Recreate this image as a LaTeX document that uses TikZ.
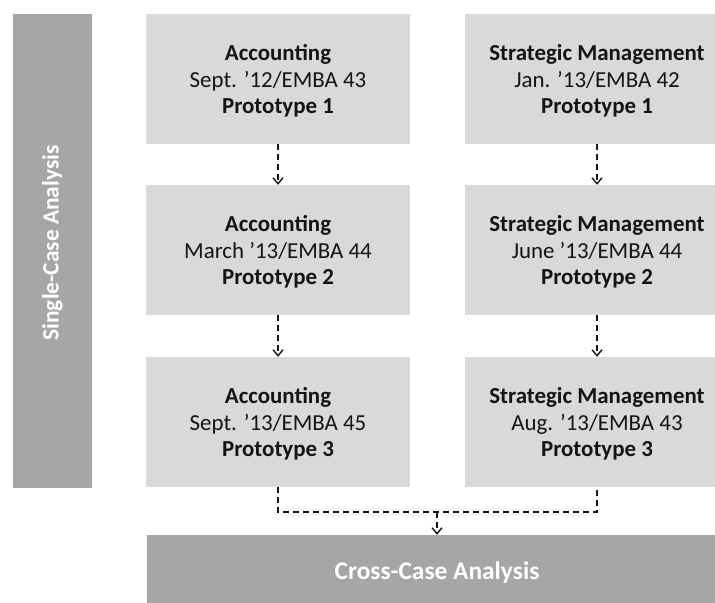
\documentclass[tikz,border=0pt]{standalone}
\usepackage{fontspec}
\setmainfont{Carlito}
\usetikzlibrary{arrows.meta}
\definecolor{lightbox}{HTML}{D9D9D9}
\definecolor{darkbar}{HTML}{A6A6A6}
\definecolor{ink}{HTML}{141414}
\newcommand{\casetext}[3]{\raisebox{-3bp}[\height][\depth]{\begin{tabular}{@{}c@{}}\textbf{#1}\\#2\\\textbf{#3}\end{tabular}}}
\tikzset{
  casebox/.style={fill=lightbox, draw=none, minimum width=264bp, minimum height=130bp,
    align=center, text=ink, font=\fontsize{23}{26.5}\selectfont, inner sep=0pt},
  barbox/.style={fill=darkbar, draw=none, align=center, text=white, inner sep=0pt},
  flow/.style={draw=ink, line width=1.4bp, dash pattern=on 6bp off 4bp},
  tip/.style={-{Straight Barb[length=6bp,width=10bp,line width=1.4bp]}}
}
\begin{document}
\begin{tikzpicture}[x=1bp,y=-1bp]
\useasboundingbox (0,0) rectangle (715,603);
\clip (0,0) rectangle (715,603);
\node[barbox, minimum width=79bp, minimum height=474bp,
  font=\bfseries\fontsize{23.5}{28}\selectfont] (single) at (52.5,251)
  {\rotatebox{90}{\hspace*{16bp}Single-Case Analysis}};
\node[casebox] (a1) at (278,79) {\casetext{Accounting}{Sept. ’12/EMBA 43}{Prototype 1}};
\node[casebox] (a2) at (278,250) {\casetext{Accounting}{March ’13/EMBA 44}{Prototype 2}};
\node[casebox] (a3) at (278,422) {\casetext{Accounting}{Sept. ’13/EMBA 45}{Prototype 3}};
\node[casebox] (b1) at (597,79) {\casetext{Strategic Management}{Jan. ’13/EMBA 42}{Prototype 1}};
\node[casebox] (b2) at (597,250) {\casetext{Strategic Management}{June ’13/EMBA 44}{Prototype 2}};
\node[casebox] (b3) at (597,422) {\casetext{Strategic Management}{Aug. ’13/EMBA 43}{Prototype 3}};
\node[barbox, minimum width=580bp, minimum height=68bp,
  font=\bfseries\fontsize{25.5}{30}\selectfont] (cross) at (437,569) {\raisebox{-4bp}[\height][\depth]{Cross-Case Analysis}};
\draw[flow, tip] (a1.south) -- (a2.north);
\draw[flow, tip] (a2.south) -- (a3.north);
\draw[flow, tip] (b1.south) -- (b2.north);
\draw[flow, tip] (b2.south) -- (b3.north);
\coordinate (merge) at (437,512);
\draw[flow] (a3.south) |- (merge) -| (b3.south);
\draw[flow, tip] (merge) -- (cross.north);
\end{tikzpicture}
\end{document}
